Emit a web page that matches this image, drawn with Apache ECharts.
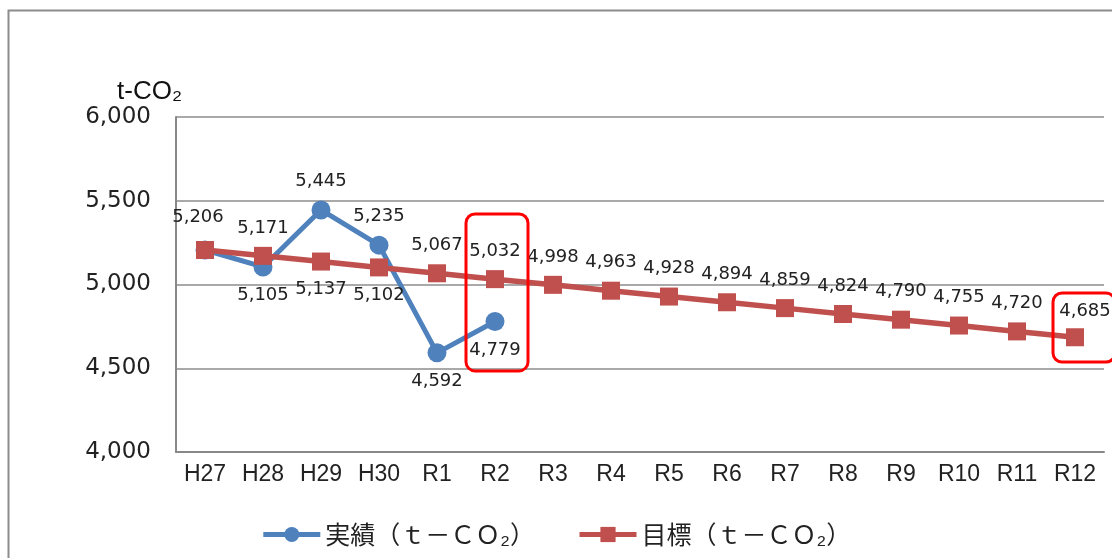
<!DOCTYPE html>
<html>
<head>
<meta charset="utf-8">
<script src="https://cdn.jsdelivr.net/npm/echarts@6/dist/echarts.min.js"></script>
<style>
  html, body { margin: 0; padding: 0; background: #fff; }
  #chart { width: 1112px; height: 558px; }
</style>
</head>
<body>
<div id="chart"></div>
<script>
// 年度
const years = ['H27', 'H28', 'H29', 'H30', 'R1', 'R2', 'R3', 'R4', 'R5', 'R6', 'R7', 'R8', 'R9', 'R10', 'R11', 'R12'];
// 実績（t-CO2）
const actual = [5206, 5105, 5445, 5235, 4592, 4779];
// 目標（t-CO2）
const target = [5206, 5171, 5137, 5102, 5067, 5032, 4998, 4963, 4928, 4894, 4859, 4824, 4790, 4755, 4720, 4685];
// 縦軸目盛
const yMin = 4000, yMax = 6000, yStep = 500;

// ラベル配置（'top' / 'bottom' / null = 非表示）
const actualLabelPos = ['top', 'bottom', 'top', 'top', 'bottom', 'bottom'];
const targetLabelPos = [null, 'top', 'bottom', 'bottom', 'top', 'top', 'top', 'top', 'top', 'top', 'top', 'top', 'top', 'top', 'top', 'top'];

const BLUE = '#4f81bd';
const RED = '#c0504d';
const LABEL_FONT = 'DejaVu Sans, Liberation Sans, sans-serif';
const CJK_FONT = '"Noto Sans CJK JP", sans-serif';

function withLabels(values, positions, offsets) {
  return values.map((v, i) => {
    const pos = positions[i];
    const off = offsets[i] || [0, 0];
    return {
      value: v,
      label: pos ? { show: true, position: pos, offset: off } : { show: false }
    };
  });
}

const actualOffsets = { 0: [-7, -4] };
const targetOffsets = { 15: [10, 2] };

const chart = echarts.init(document.getElementById('chart'), null, { renderer: 'canvas' });

const labelStyle = {
  fontFamily: LABEL_FONT,
  fontSize: 18,
  color: '#222',
  distance: 10,
  formatter: p => p.value.toLocaleString('en-US')
};

chart.setOption({
  animation: false,
  backgroundColor: '#fff',
  grid: { left: 176, right: 8, top: 117, bottom: 106 },
  legend: {
    bottom: 6,
    left: 'center',
    itemWidth: 57,
    itemHeight: 19,
    itemGap: 42,
    lineStyle: { width: 5 },
    textStyle: { fontFamily: CJK_FONT, fontSize: 25, color: '#222' },
    data: ['実績（ｔ－ＣＯ₂）', '目標（ｔ－ＣＯ₂）']
  },
  xAxis: {
    type: 'category',
    data: years,
    boundaryGap: true,
    axisLine: { lineStyle: { color: '#888', width: 2 } },
    axisTick: { show: false },
    axisLabel: {
      fontFamily: '"Liberation Sans Narrow", "Liberation Sans", sans-serif',
      fontSize: 23,
      color: '#222',
      margin: 11
    }
  },
  yAxis: {
    type: 'value',
    min: yMin,
    max: yMax,
    interval: yStep,
    name: 't-CO₂',
    nameLocation: 'end',
    nameGap: 12,
    nameTextStyle: {
      fontFamily: 'Liberation Sans, sans-serif',
      fontSize: 26,
      color: '#111',
      align: 'right',
      padding: [0, -6, 0, 0]
    },
    axisLine: { show: true, lineStyle: { color: '#888', width: 2 } },
    axisTick: { show: false },
    splitLine: { lineStyle: { color: '#8c8c8c', width: 1.5 } },
    axisLabel: {
      fontFamily: LABEL_FONT,
      fontSize: 23,
      color: '#222',
      margin: 25,
      formatter: v => v.toLocaleString('en-US')
    }
  },
  series: [
    {
      name: '実績（ｔ－ＣＯ₂）',
      type: 'line',
      data: withLabels(actual, actualLabelPos, actualOffsets),
      symbol: 'circle',
      symbolSize: 19,
      lineStyle: { color: BLUE, width: 5 },
      itemStyle: { color: BLUE },
      label: labelStyle,
      z: 2
    },
    {
      name: '目標（ｔ－ＣＯ₂）',
      type: 'line',
      data: withLabels(target, targetLabelPos, targetOffsets),
      symbol: 'rect',
      symbolSize: 18,
      lineStyle: { color: RED, width: 5.5 },
      itemStyle: { color: RED },
      label: labelStyle,
      z: 3
    }
  ]
});

// 外枠と強調枠（R2・R12）を軸座標から配置
function drawOverlays() {
  const px = (i, v) => chart.convertToPixel({ gridIndex: 0 }, [i, v]);
  const band = px(1, yMin)[0] - px(0, yMin)[0];
  const r2 = years.indexOf('R2');
  const r12 = years.indexOf('R12');
  const a1 = px(r2, 5421), b1 = px(r2, 4484);
  const a2 = px(r12, 4949), b2 = px(r12, 4537);
  const boxStyle = { fill: 'none', stroke: '#ff0000', lineWidth: 3 };
  chart.setOption({
    graphic: [
      {
        type: 'rect', silent: true, z: 0,
        shape: { x: 8.5, y: 10.5, width: 1200, height: 700 },
        style: { fill: 'none', stroke: '#8c8c8c', lineWidth: 2 }
      },
      {
        type: 'rect', silent: true, z: 10,
        shape: { x: a1[0] - band / 2, y: a1[1], width: band + 4, height: b1[1] - a1[1], r: 9 },
        style: boxStyle
      },
      {
        type: 'rect', silent: true, z: 10,
        shape: { x: a2[0] - 22, y: a2[1], width: 62, height: b2[1] - a2[1], r: 9 },
        style: boxStyle
      }
    ]
  });
}
drawOverlays();
</script>
</body>
</html>
